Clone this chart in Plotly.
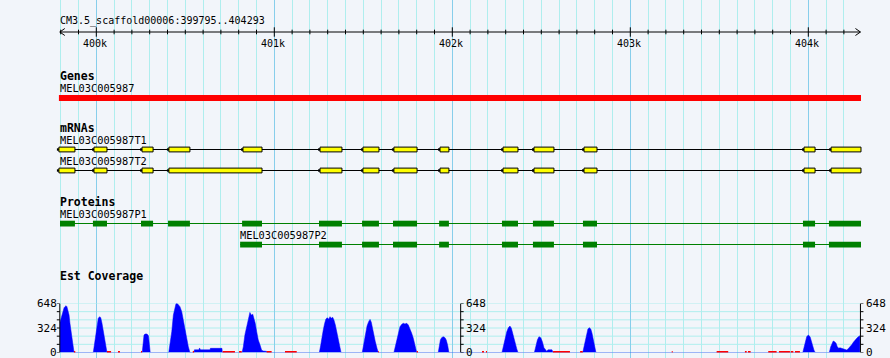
import plotly.graph_objects as go

# ---------------- data ----------------
ref_name = "CM3.5_scaffold00006"
region_start = 399795
region_end = 404293
ruler_major = [400000, 401000, 402000, 403000, 404000]
ruler_major_labels = ["400k", "401k", "402k", "403k", "404k"]
ruler_minor = [v for v in range(399800, 404300, 100) if v % 1000 != 0]

gene_name = "MEL03C005987"
gene_start = 399790
gene_end = 404296

t1_name = "MEL03C005987T1"
t1_starts = [399790, 399987, 400257, 400408, 400824, 401257, 401498, 401672,
             401931, 402285, 402459, 402740, 403976, 404128]
t1_ends = [399880, 400060, 400319, 400526, 400931, 401380, 401588, 401802,
           401981, 402369, 402571, 402813, 404038, 404296]
t2_name = "MEL03C005987T2"
t2_starts = [399790, 399987, 400257, 400408, 401257, 401498, 401672,
             401931, 402285, 402459, 402740, 403976, 404128]
t2_ends = [399880, 400060, 400319, 400931, 401380, 401588, 401802,
           401981, 402369, 402571, 402813, 404038, 404296]

p1_name = "MEL03C005987P1"
p1_starts = [399796, 399981, 400251, 400403, 400819, 401251, 401493, 401667,
             401926, 402279, 402453, 402734, 403970, 404116]
p1_ends = [399880, 400060, 400319, 400526, 400931, 401380, 401588, 401802,
           401981, 402369, 402571, 402813, 404038, 404296]
p2_name = "MEL03C005987P2"
p2_starts = [400808, 401251, 401493, 401667, 401926, 402279, 402453, 402734,
             403970, 404116]
p2_ends = [400931, 401380, 401588, 401802, 401981, 402369, 402571, 402813,
           404038, 404296]

cov_pos = [
    399796, 399802, 399807, 399813, 399819, 399824, 399830, 399835, 399841, 399847,
    399852, 399858, 399863, 399869, 399875,
    399983, 399991, 399998, 400004, 400011, 400019, 400025, 400032, 400039, 400047,
    400054, 400060,
    400258, 400262, 400268, 400274, 400285, 400293, 400299, 400303,
    400407, 400414, 400424, 400433, 400442, 400448, 400455, 400463, 400470, 400480,
    400489, 400498, 400508, 400517, 400526,
    400549, 400551, 400577, 400580, 400585, 400639, 400641, 400706, 400708,
    400819, 400826, 400835, 400845, 400854, 400860, 400863, 400867, 400873, 400879,
    400886, 400893, 400901, 400910, 400920, 400929, 400938, 400957, 400959,
    401253, 401261, 401268, 401275, 401283, 401290, 401298, 401306, 401313, 401320,
    401328, 401335, 401343, 401351, 401358, 401365, 401375,
    401494, 401502, 401511, 401521, 401530, 401538, 401545, 401553, 401560, 401567,
    401577, 401584,
    401672, 401680, 401688, 401697, 401706, 401716, 401725, 401734, 401744, 401753,
    401762, 401772, 401781, 401790, 401800,
    401921, 401927, 401933, 401940, 401949, 401959, 401966, 401974, 401981,
    402279, 402287, 402296, 402306, 402315, 402324, 402332, 402339, 402347, 402354,
    402362, 402369,
    402461, 402469, 402478, 402487, 402497, 402506, 402515, 402525, 402530, 402538,
    402560, 402566,
    402733, 402740, 402747, 402755, 402762, 402770, 402778, 402785, 402792, 402800,
    402807,
    403969, 403976, 403983, 403991, 404000, 404010, 404017, 404025, 404032, 404039,
    404118, 404126, 404133, 404140, 404148, 404156, 404163, 404171, 404178, 404185,
    404193, 404201, 404208, 404216, 404223, 404230, 404238, 404246, 404253, 404262,
    404272, 404281, 404290,
]
cov_val = [
    400, 460, 505, 562, 592, 606, 619, 606, 562, 496,
    386, 276, 165, 77, 0,
    0, 143, 276, 386, 452, 474, 460, 386, 276, 165,
    77, 0,
    0, 120, 230, 245, 245, 220, 120, 0,
    0, 99, 276, 496, 606, 648, 648, 630, 606, 540,
    430, 298, 165, 77, 0,
    0, 35, 35, 60, 35, 35, 55, 55, 0,
    0, 77, 236, 350, 430, 496, 530, 510, 496, 506,
    460, 386, 276, 165, 99, 30, 20, 15, 0,
    0, 99, 236, 298, 386, 443, 460, 440, 474, 452,
    465, 430, 364, 276, 165, 77, 0,
    0, 99, 236, 350, 408, 438, 400, 298, 236, 148,
    55, 0,
    0, 77, 187, 275, 341, 372, 386, 377, 386, 364,
    320, 253, 187, 95, 0,
    0, 95, 165, 196, 209, 196, 165, 95, 0,
    0, 77, 187, 275, 328, 350, 320, 253, 179, 95,
    51, 0,
    0, 77, 165, 209, 196, 143, 64, 33, 18, 35,
    35, 0,
    0, 77, 165, 253, 311, 328, 311, 253, 165, 77,
    0,
    0, 77, 165, 209, 231, 209, 152, 77, 31, 0,
    0, 77, 121, 152, 143, 121, 77, 55, 62, 55,
    55, 46, 40, 33, 46, 62, 77, 108, 135, 165,
    187, 209, 223,
]

zero_starts = [399875, 400060, 400122, 400251, 400542, 400710, 400802, 400957, 401060,
               401584, 401800, 402167, 402189, 402566, 402718, 403233, 403485, 403644,
               403661, 403775, 403835, 403901, 403925]
zero_ends = [399882, 400083, 400133, 400257, 400549, 400779, 400817, 400985, 401126,
             401588, 401807, 402178, 402195, 402661, 402733, 403238, 403550, 403654,
             403676, 403822, 403897, 403916, 403953]

cov_max = 648
cov_ticks = [0, 108, 216, 324, 432, 540, 648]
cov_labels = [0, 324, 648]
cov_axis_pos = [399795, 402047, 404293]
cov_axis_side = ["left", "right", "right"]

# ---------------- style ----------------
BG = "#f2f5fa"
MINOR = "#afeeee"
MAJOR = "#87ceeb"
FONT = "DejaVu Sans Mono"

W, H = 890, 358
X0, X1 = 399459, 404459  # genomic coordinates at pixel 0 and 890

fig = go.Figure()
shapes = []
ann = []


def text(x, y, s, size=10, bold=False, xanchor="left", xref="x", yref="y", xshift=-2):
    ann.append(dict(x=x, y=y, xref=xref, yref=yref, text=("<b>%s</b>" % s) if bold else s,
                    showarrow=False, xanchor=xanchor, yanchor="middle", xshift=xshift,
                    font=dict(family=FONT, size=size, color="black")))


# ruler
AX_Y = 32
shapes.append(dict(type="line", xref="x", yref="y", x0=region_start, x1=region_end,
                   y0=AX_Y, y1=AX_Y, line=dict(color="black", width=1), layer="above"))
shapes.append(dict(type="path", xref="x", yref="y", xsizemode="pixel", xanchor=region_start,
                   path="M5,%s L0,%s L5,%s" % (AX_Y - 3.5, AX_Y, AX_Y + 3.5),
                   line=dict(color="black", width=1), layer="above"))
shapes.append(dict(type="path", xref="x", yref="y", xsizemode="pixel", xanchor=region_end,
                   path="M-5,%s L0,%s L-5,%s" % (AX_Y - 3.5, AX_Y, AX_Y + 3.5),
                   line=dict(color="black", width=1), layer="above"))
tx, ty = [], []
for v in ruler_minor:
    tx += [v, v, None]
    ty += [AX_Y - 2.3, AX_Y + 2.3, None]
for v in ruler_major:
    tx += [v, v, None]
    ty += [AX_Y - 4.7, AX_Y + 4.7, None]
fig.add_trace(go.Scatter(x=tx, y=ty, mode="lines", line=dict(color="black", width=1),
                         hoverinfo="skip", showlegend=False))
text(region_start, 21, "%s:%d..%d" % (ref_name, region_start, region_end))
for v, lab in zip(ruler_major, ruler_major_labels):
    text(v, 43.5, lab, xanchor="center", xshift=-1)

# genes
text(region_start, 76, "Genes", size=11.5, bold=True)
text(region_start, 88, gene_name, size=10.3)
shapes.append(dict(type="rect", xref="x", yref="y", x0=gene_start, x1=gene_end, y0=95, y1=101,
                   fillcolor="#ff0000", line=dict(width=0), layer="above"))

# mRNAs
text(region_start, 128, "mRNAs", size=11.5, bold=True)


def transcript(name, starts, ends, ly, y):
    text(region_start, ly, name, size=10.3)
    shapes.append(dict(type="line", xref="x", yref="y", x0=min(starts), x1=max(ends), y0=y, y1=y,
                       line=dict(color="black", width=1.2), layer="above"))
    for s, e in zip(starts, ends):
        shapes.append(dict(type="rect", xref="x", yref="y", xsizemode="pixel", xanchor=s,
                           x0=-2, x1=0, y0=y - 1.2, y1=y + 1.2,
                           fillcolor="black", line=dict(width=0), layer="above"))
        shapes.append(dict(type="rect", xref="x", yref="y", x0=s, x1=e, y0=y - 2.4, y1=y + 2.4,
                           fillcolor="#ffff00", line=dict(color="black", width=1), layer="above"))


transcript(t1_name, t1_starts, t1_ends, 140, 149.5)
transcript(t2_name, t2_starts, t2_ends, 161, 170.5)

# proteins
text(region_start, 202, "Proteins", size=11.5, bold=True)


def protein(name, starts, ends, lx, ly, y):
    text(lx, ly, name, size=10.3)
    shapes.append(dict(type="line", xref="x", yref="y", x0=min(starts), x1=max(ends), y0=y, y1=y,
                       line=dict(color="#008000", width=1.2), layer="above"))
    for s, e in zip(starts, ends):
        shapes.append(dict(type="rect", xref="x", yref="y", x0=s, x1=e, y0=y - 2.8, y1=y + 3,
                           fillcolor="#008000", line=dict(width=0), layer="above"))


protein(p1_name, p1_starts, p1_ends, region_start, 214, 223.5)
protein(p2_name, p2_starts, p2_ends, p2_starts[0], 235, 244.5)

# est coverage
text(region_start, 276, "Est Coverage", size=11.5, bold=True)
for v in cov_ticks:
    shapes.append(dict(type="line", xref="x", yref="y2", x0=region_start, x1=region_end,
                       y0=v, y1=v, line=dict(color=MINOR, width=1), layer="below"))

fig.add_trace(go.Scatter(x=cov_pos, y=cov_val, xaxis="x", yaxis="y2", mode="lines",
                         line=dict(color="#0000ff", width=0.5), fill="tozeroy",
                         fillcolor="#0000ff", hoverinfo="skip", showlegend=False))
zx, zy = [], []
for s, e in zip(zero_starts, zero_ends):
    zx += [s, e, None]
    zy += [0, 0, None]
fig.add_trace(go.Scatter(x=zx, y=zy, xaxis="x", yaxis="y2", mode="lines",
                         line=dict(color="#ff0000", width=3), hoverinfo="skip", showlegend=False))

for pos, side in zip(cov_axis_pos, cov_axis_side):
    shapes.append(dict(type="line", xref="x", yref="y2", x0=pos, x1=pos, y0=0, y1=cov_max,
                       line=dict(color="black", width=1), layer="above"))
    d = -3 if side == "left" else 3
    for v in cov_ticks:
        shapes.append(dict(type="line", xref="x", yref="y2", xsizemode="pixel", xanchor=pos,
                           x0=0, x1=d, y0=v, y1=v, line=dict(color="black", width=1),
                           layer="above"))
    for v in cov_labels:
        ann.append(dict(x=pos, y=v, xref="x", yref="y2", text=str(v), showarrow=False,
                        xanchor="right" if side == "left" else "left", yanchor="middle",
                        xshift=-1 if side == "left" else 3.5,
                        font=dict(family=FONT, size=11, color="black")))

d0 = 5.5 / H
d1 = 54.5 / H
fig.update_layout(
    width=W, height=H, margin=dict(l=0, r=0, t=0, b=0, pad=0),
    paper_bgcolor=BG, plot_bgcolor="rgba(0,0,0,0)",
    showlegend=False,
    xaxis=dict(range=[X0, X1], domain=[0, 1], tickmode="array", tickvals=ruler_major,
               showgrid=True, gridcolor=MAJOR, gridwidth=1, showticklabels=False, ticks="",
               zeroline=False, showline=False, fixedrange=True,
               minor=dict(tickmode="array", tickvals=ruler_minor, showgrid=True,
                          gridcolor=MINOR, gridwidth=1, ticks="")),
    yaxis=dict(range=[H, 0], domain=[0, 1], visible=False, showgrid=False, zeroline=False),
    yaxis2=dict(range=[0, cov_max], domain=[d0, d1], anchor="x", visible=False,
                showgrid=False, zeroline=False),
    shapes=shapes,
    annotations=ann,
)

fig.write_html("out.html", config={"displayModeBar": False},
               post_script="document.body.style.margin='0px';document.body.style.padding='0px';")
